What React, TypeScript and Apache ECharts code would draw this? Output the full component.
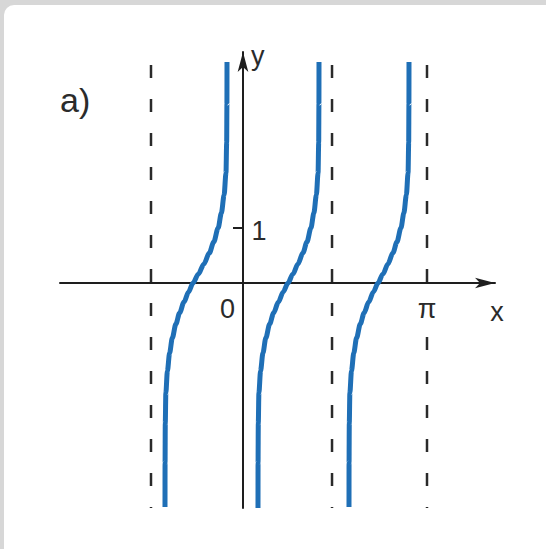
import React, { useEffect, useRef } from "react";
import * as echarts from "echarts";

// Branch points: [x (radians), y]
const branch1: [number, number][] = [
  [-1.3318, -4.05], [-1.3307, -3.255], [-1.327, -2.532], [-1.3174, -1.989], [-1.2911, -1.591],
  [-1.2529, -1.266], [-1.2075, -0.995], [-1.1453, -0.741], [-1.0832, -0.542], [-1.0067, -0.344],
  [-0.9302, -0.163], [-0.8537, 0], [-0.7608, 0.163], [-0.6679, 0.344], [-0.5751, 0.542],
  [-0.4996, 0.741], [-0.4241, 0.995], [-0.369, 1.266], [-0.3225, 1.591], [-0.2906, 1.989],
  [-0.279, 2.532], [-0.2744, 3.255], [-0.2732, 3.996],
];
const branch2: [number, number][] = [
  [0.2561, -4.07], [0.2571, -3.255], [0.2612, -2.532], [0.2715, -1.989], [0.2996, -1.591],
  [0.3406, -1.266], [0.3893, -0.995], [0.4559, -0.741], [0.5224, -0.542], [0.6044, -0.344],
  [0.6863, -0.163], [0.7683, 0], [0.853, 0.163], [0.9377, 0.344], [1.0224, 0.542],
  [1.0912, 0.741], [1.16, 0.995], [1.2103, 1.266], [1.2526, 1.591], [1.2817, 1.989],
  [1.2923, 2.532], [1.2965, 3.255], [1.2976, 3.996],
];
const branch3: [number, number][] = [
  [1.8098, -4.05], [1.8108, -3.255], [1.8147, -2.532], [1.8246, -1.989], [1.8519, -1.591],
  [1.8915, -1.266], [1.9385, -0.995], [2.0029, -0.741], [2.0672, -0.542], [2.1465, -0.344],
  [2.2257, -0.163], [2.3049, 0], [2.3896, 0.163], [2.4743, 0.344], [2.559, 0.542],
  [2.6278, 0.741], [2.6966, 0.995], [2.7469, 1.266], [2.7892, 1.591], [2.8183, 1.989],
  [2.8289, 2.532], [2.8331, 3.255], [2.8342, 3.996],
];
const asymptotes: number[] = [-Math.PI / 2, 1.52, Math.PI];
const dashTop = 3.94;
const dashBottom = -4.07;
const tickLabels: { x: number; y: number; text: string; offset: [number, number]; bg: boolean }[] = [
  { x: 0, y: 0, text: "0", offset: [-15.5, 26], bg: false },
  { x: Math.PI, y: 0, text: "π", offset: [0, 26], bg: true },
  { x: 0, y: 1, text: "1", offset: [16, 3], bg: false },
];
const yTickValues: number[] = [1];
const xRange: [number, number] = [-3.1245, 4.3026];
const yRange: [number, number] = [-4.069, 4.177];

const FONT = "'Liberation Sans', Arial, Helvetica, sans-serif";
const TEXT = "#2b2b2b";
const AXIS = "#1e1e1e";
const BLUE = "#1f6fb6";

export default function App() {
  const ref = useRef<HTMLDivElement>(null);
  useEffect(() => {
    if (!ref.current) return;
    const chart = echarts.init(ref.current, undefined, { renderer: "svg" });
    const curveSeries = [branch1, branch2, branch3].map((d) => ({
      type: "line",
      data: d,
      showSymbol: false,
      smooth: 0.3,
      smoothMonotone: "x",
      z: 3,
      silent: true,
      lineStyle: { color: BLUE, width: 5, cap: "butt" },
    }));
    const dashSeries = asymptotes.map((x) => ({
      type: "line",
      data: [
        [x, dashTop],
        [x, dashBottom],
      ],
      showSymbol: false,
      silent: true,
      z: 2,
      lineStyle: { type: [13, 21], color: "#2a2a2a", width: 2.5, cap: "butt" },
    }));
    const labelSeries = {
      type: "scatter",
      silent: true,
      symbolSize: 1,
      itemStyle: { opacity: 0 },
      z: 4,
      data: tickLabels.map((t) => ({
        value: [t.x, t.y],
        label: {
          show: true,
          position: "inside",
          offset: t.offset,
          formatter: t.text,
          fontSize: 27,
          color: TEXT,
          opacity: 1,
          fontFamily: FONT,
          backgroundColor: t.bg ? "#ffffff" : "transparent",
          padding: t.bg ? [2, 2, 2, 2] : 0,
        },
      })),
    };
    chart.setOption({
      animation: false,
      backgroundColor: "#d7d7d7",
      textStyle: { fontFamily: FONT },
      graphic: [
        {
          type: "rect",
          z: -10,
          silent: true,
          shape: { x: 4, y: 5, width: 560, height: 560, r: 10 },
          style: { fill: "#ffffff" },
        },
      ],
      title: {
        text: "a)",
        left: 55,
        top: 78,
        textStyle: { fontFamily: FONT, fontSize: 34, fontWeight: "normal", color: TEXT },
      },
      grid: { left: 60, right: 51, top: 52, bottom: 41, containLabel: false },
      xAxis: {
        type: "value",
        min: xRange[0],
        max: xRange[1],
        splitLine: { show: false },
        axisTick: { show: false },
        axisLabel: { show: false },
        axisLine: {
          onZero: true,
          symbol: ["none", "arrow"],
          symbolSize: [8, 20],
          lineStyle: { color: AXIS, width: 2 },
        },
        name: "x",
        nameLocation: "end",
        nameGap: 2,
        nameTextStyle: {
          fontSize: 27,
          color: TEXT,
          fontFamily: FONT,
          align: "center",
          verticalAlign: "top",
          padding: [16, 0, 0, 0],
        },
      },
      yAxis: {
        type: "value",
        min: yRange[0],
        max: yRange[1],
        splitLine: { show: false },
        axisLabel: { show: false },
        axisLine: {
          onZero: true,
          symbol: ["none", "arrow"],
          symbolSize: [8, 20],
          lineStyle: { color: AXIS, width: 2 },
        },
        axisTick: {
          show: true,
          customValues: yTickValues,
          length: 10,
          inside: false,
          lineStyle: { color: AXIS, width: 2 },
        },
        name: "y",
        nameLocation: "end",
        nameGap: 10,
        nameTextStyle: {
          fontSize: 27,
          color: TEXT,
          fontFamily: FONT,
          align: "left",
          verticalAlign: "top",
          padding: [0, 0, 0, 8],
        },
      },
      series: [...dashSeries, ...curveSeries, labelSeries],
    });
    return () => chart.dispose();
  }, []);
  return (
    <div
      ref={ref}
      style={{ position: "fixed", left: 0, top: 0, width: 546, height: 549 }}
    />
  );
}
